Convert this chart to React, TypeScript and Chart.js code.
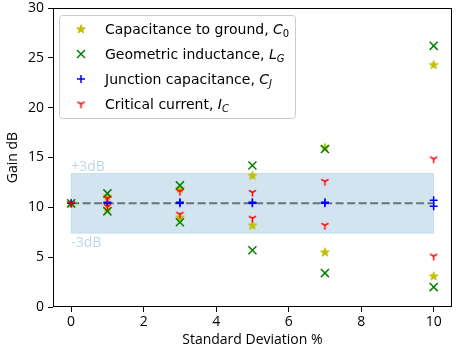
import React, { useEffect, useRef } from "react";
import { Chart, registerables } from "chart.js";

Chart.register(...registerables);

// ---- data ----
const xValues = [0, 1, 1, 3, 3, 5, 5, 7, 7, 10, 10];
const gainC0 = [10.4, 11.1, 9.9, 11.9, 9.0, 13.2, 8.2, 16.0, 5.5, 24.3, 3.1];
const gainLG = [10.4, 11.4, 9.6, 12.2, 8.5, 14.2, 5.7, 15.85, 3.4, 26.2, 2.0];
const gainCJ = [10.4, 10.5, 10.4, 10.5, 10.4, 10.5, 10.4, 10.5, 10.4, 10.7, 10.1];
const gainIC = [10.4, 10.9, 10.1, 11.6, 9.3, 11.5, 8.9, 12.6, 8.2, 14.85, 5.1];
const baselineGain = 10.4;
const bandOffset = 3;
const bandX = [0, 10];
const xTicks = [0, 2, 4, 6, 8, 10];
const yTicks = [0, 5, 10, 15, 20, 25, 30];
const legendNames = [
  "Capacitance to ground, ",
  "Geometric inductance, ",
  "Junction capacitance, ",
  "Critical current, ",
];
const legendSymbols = ["C", "L", "C", "I"];
const legendSubs = ["0", "G", "J", "C"];
const bandLabels = ["+3dB", "-3dB"];
const xTitle = "Standard Deviation %";
const yTitle = "Gain dB";

const COLORS = ["#bfbf00", "#008000", "#0000ff", "#ff0000"];
const AXIS_FONT = "'Open Sans', sans-serif";
const LEGEND_FONT = "'DejaVu Sans', sans-serif";

function makeStar(color: string): HTMLCanvasElement {
  const c = document.createElement("canvas");
  c.width = 12;
  c.height = 12;
  const ctx = c.getContext("2d")!;
  const cx = 6, cy = 6.3, R = 4.6, r = 4.6 * 0.381966;
  ctx.beginPath();
  for (let i = 0; i < 10; i++) {
    const rad = i % 2 === 0 ? R : r;
    const a = -Math.PI / 2 + (i * Math.PI) / 5;
    const px = cx + rad * Math.cos(a);
    const py = cy + rad * Math.sin(a);
    if (i === 0) ctx.moveTo(px, py);
    else ctx.lineTo(px, py);
  }
  ctx.closePath();
  ctx.fillStyle = color;
  ctx.strokeStyle = color;
  ctx.lineWidth = 1;
  ctx.fill();
  ctx.stroke();
  return c;
}

function makeTriDown(color: string): HTMLCanvasElement {
  const c = document.createElement("canvas");
  c.width = 11;
  c.height = 11;
  const ctx = c.getContext("2d")!;
  const cx = 5.5, cy = 5.5, r = 4.2;
  ctx.strokeStyle = color;
  ctx.lineWidth = 1.5;
  ctx.beginPath();
  ctx.moveTo(cx, cy);
  ctx.lineTo(cx, cy + r);
  ctx.moveTo(cx, cy);
  ctx.lineTo(cx - r * Math.sin(Math.PI / 3), cy - r * 0.5);
  ctx.moveTo(cx, cy);
  ctx.lineTo(cx + r * Math.sin(Math.PI / 3), cy - r * 0.5);
  ctx.stroke();
  return c;
}

function drawMarker(ctx: CanvasRenderingContext2D, i: number, x: number, y: number, imgs: HTMLCanvasElement[]) {
  ctx.save();
  if (i === 0) ctx.drawImage(imgs[0], x - imgs[0].width / 2, y - imgs[0].height / 2);
  else if (i === 3) ctx.drawImage(imgs[1], x - imgs[1].width / 2, y - imgs[1].height / 2);
  else {
    ctx.strokeStyle = COLORS[i];
    ctx.lineWidth = 1.5;
    ctx.beginPath();
    const h = 4;
    if (i === 1) {
      ctx.moveTo(x - h, y - h); ctx.lineTo(x + h, y + h);
      ctx.moveTo(x - h, y + h); ctx.lineTo(x + h, y - h);
    } else {
      ctx.moveTo(x - h, y); ctx.lineTo(x + h, y);
      ctx.moveTo(x, y - h); ctx.lineTo(x, y + h);
    }
    ctx.stroke();
  }
  ctx.restore();
}

export default function App() {
  const ref = useRef<HTMLCanvasElement | null>(null);

  useEffect(() => {
    if (!ref.current) return;
    const starImg = makeStar(COLORS[0]);
    const triImg = makeTriDown(COLORS[3]);
    const imgs = [starImg, triImg];

    const pts = (ys: number[]) => ys.map((y, i) => ({ x: xValues[i], y }));

    const bandPlugin = {
      id: "band",
      beforeDatasetsDraw(chart: any) {
        const { ctx, scales } = chart;
        const xs = scales.x, ys = scales.y;
        const x0 = xs.getPixelForValue(bandX[0]);
        const x1 = xs.getPixelForValue(bandX[1]);
        const yTop = ys.getPixelForValue(baselineGain + bandOffset);
        const yBot = ys.getPixelForValue(baselineGain - bandOffset);
        ctx.save();
        ctx.fillStyle = "rgba(31,119,180,0.2)";
        ctx.fillRect(x0, yTop, x1 - x0, yBot - yTop);
        ctx.strokeStyle = "rgba(31,119,180,0.15)";
        ctx.lineWidth = 1;
        ctx.strokeRect(x0, yTop, x1 - x0, yBot - yTop);
        ctx.fillStyle = "rgba(31,119,180,0.3)";
        ctx.font = `14px ${AXIS_FONT}`;
        ctx.textAlign = "left";
        ctx.textBaseline = "bottom";
        ctx.fillText(bandLabels[0], x0, yTop + 1);
        ctx.textBaseline = "top";
        ctx.fillText(bandLabels[1], x0, yBot + 3);
        ctx.restore();
      },
    };

    const framePlugin = {
      id: "frameLegend",
      afterDraw(chart: any) {
        const { ctx, chartArea } = chart;
        ctx.save();
        ctx.strokeStyle = "#000";
        ctx.lineWidth = 1;
        ctx.strokeRect(
          Math.round(chartArea.left) + 0.5,
          Math.round(chartArea.top) + 0.5,
          Math.round(chartArea.right - chartArea.left) - 1,
          Math.round(chartArea.bottom - chartArea.top) - 1
        );
        // legend
        const lx = 59.5, ly = 15.5, lw = 236, lh = 103, rr = 3;
        ctx.beginPath();
        ctx.moveTo(lx + rr, ly);
        ctx.lineTo(lx + lw - rr, ly);
        ctx.quadraticCurveTo(lx + lw, ly, lx + lw, ly + rr);
        ctx.lineTo(lx + lw, ly + lh - rr);
        ctx.quadraticCurveTo(lx + lw, ly + lh, lx + lw - rr, ly + lh);
        ctx.lineTo(lx + rr, ly + lh);
        ctx.quadraticCurveTo(lx, ly + lh, lx, ly + lh - rr);
        ctx.lineTo(lx, ly + rr);
        ctx.quadraticCurveTo(lx, ly, lx + rr, ly);
        ctx.closePath();
        ctx.fillStyle = "rgba(255,255,255,0.8)";
        ctx.fill();
        ctx.strokeStyle = "#cccccc";
        ctx.stroke();
        for (let i = 0; i < legendNames.length; i++) {
          const cy = 29 + i * 25;
          drawMarker(ctx, i, 81, cy, imgs);
          ctx.fillStyle = "#000";
          ctx.textBaseline = "alphabetic";
          ctx.textAlign = "left";
          const base = cy + 5;
          ctx.font = `14px ${LEGEND_FONT}`;
          let tx = 105;
          ctx.fillText(legendNames[i], tx, base);
          tx += ctx.measureText(legendNames[i]).width;
          ctx.font = `italic 14px ${LEGEND_FONT}`;
          ctx.fillText(legendSymbols[i], tx, base);
          tx += ctx.measureText(legendSymbols[i]).width;
          const sub = legendSubs[i];
          ctx.font = /\d/.test(sub) ? `10px ${LEGEND_FONT}` : `italic 10px ${LEGEND_FONT}`;
          ctx.fillText(sub, tx, base + 3);
        }
        ctx.restore();
      },
    };

    const chart = new Chart(ref.current, {
      type: "scatter",
      data: {
        datasets: [
          {
            label: "C0",
            data: pts(gainC0),
            pointStyle: starImg as any,
            order: 3,
          },
          {
            label: "LG",
            data: pts(gainLG),
            pointStyle: "crossRot",
            pointRadius: 5.7,
            borderColor: COLORS[1],
            borderWidth: 1.5,
            order: 2,
          },
          {
            label: "CJ",
            data: pts(gainCJ),
            pointStyle: "cross",
            pointRadius: 4,
            borderColor: COLORS[2],
            borderWidth: 1.5,
            order: 1,
          },
          {
            label: "IC",
            data: pts(gainIC),
            pointStyle: triImg as any,
            order: 0,
          },
          {
            type: "line",
            label: "baseline",
            data: bandX.map((x) => ({ x, y: baselineGain })),
            borderColor: "rgba(0,0,0,0.5)",
            borderWidth: 2,
            borderDash: [8, 3.5],
            pointRadius: 0,
            fill: false,
            order: 4,
          } as any,
        ],
      },
      options: {
        animation: false,
        responsive: false,
        maintainAspectRatio: false,
        layout: { padding: { top: 8, right: 7, left: 0, bottom: 0 } },
        plugins: {
          legend: { display: false },
          tooltip: { enabled: false },
        },
        scales: {
          x: {
            type: "linear",
            min: -0.5,
            max: 10.5,
            afterBuildTicks: (s: any) => {
              s.ticks = xTicks.map((v) => ({ value: v }));
            },
            afterFit: (s: any) => {
              s.height = 43;
              s.paddingLeft = 0;
              s.paddingRight = 0;
            },
            grid: {
              drawOnChartArea: false,
              drawTicks: true,
              tickLength: 5,
              tickColor: "#000",
              tickWidth: 1,
            },
            border: { display: false },
            ticks: {
              color: "#000",
              font: { family: AXIS_FONT, size: 14 },
              padding: 2,
              maxRotation: 0,
            },
            title: {
              display: true,
              text: xTitle,
              color: "#000",
              font: { family: AXIS_FONT, size: 14 },
              padding: { top: 0, bottom: 2 },
            },
          },
          y: {
            type: "linear",
            min: 0,
            max: 30,
            afterBuildTicks: (s: any) => {
              s.ticks = yTicks.map((v) => ({ value: v }));
            },
            afterFit: (s: any) => {
              s.width = 53;
              s.paddingTop = 0;
              s.paddingBottom = 0;
            },
            grid: {
              drawOnChartArea: false,
              drawTicks: true,
              tickLength: 5,
              tickColor: "#000",
              tickWidth: 1,
            },
            border: { display: false },
            ticks: {
              color: "#000",
              font: { family: AXIS_FONT, size: 14 },
              padding: 4,
            },
            title: {
              display: true,
              text: yTitle,
              color: "#000",
              font: { family: AXIS_FONT, size: 14 },
              padding: { top: 5, bottom: 0 },
            },
          },
        },
      },
      plugins: [bandPlugin, framePlugin],
    });
    return () => chart.destroy();
  }, []);

  return (
    <div style={{ position: "absolute", left: 0, top: 0, width: 459, height: 350, background: "#fff" }}>
      <canvas ref={ref} width={459} height={350} style={{ width: 459, height: 350 }} />
    </div>
  );
}
